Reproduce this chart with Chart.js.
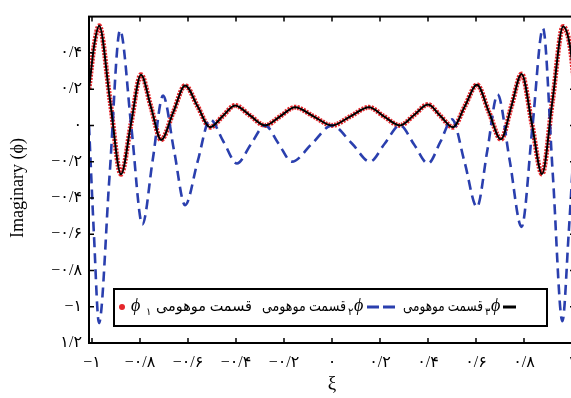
<!DOCTYPE html>
<html>
<head>
<meta charset="utf-8">
<script src="https://cdn.jsdelivr.net/npm/chart.js@4"></script>
<style>
  html, body { margin: 0; padding: 0; background: #fff; overflow: hidden; }
  #wrap { width: 571px; height: 398px; overflow: hidden; }
</style>
</head>
<body>
<div id="wrap"><canvas id="myChart" width="590" height="398"></canvas></div>
<script>
'use strict'

// ********* DATA *********

// phi 3 (black solid) and phi 1 (red dots) - they sit on top of each other
let xPhi3 = [-1.0125, -0.99, -0.970, -0.925, -0.879, -0.838, -0.796, -0.754, -0.712, -0.662, -0.612, -0.560, -0.508, -0.456, -0.404, -0.342, -0.279, -0.216, -0.154, -0.077, 0,
  0.077, 0.154, 0.216, 0.283, 0.342, 0.400, 0.452, 0.504, 0.554, 0.604, 0.654, 0.704, 0.747, 0.790, 0.833, 0.875, 0.919, 0.963, 0.99, 1.0125];
let phi3 = [0.20, 0.45, 0.55, 0.14, -0.27, 0.005, 0.28, 0.10, -0.08, 0.07, 0.22, 0.105, -0.01, 0.05, 0.11, 0.055, 0.00, 0.05, 0.10, 0.05, 0.00,
  0.05, 0.10, 0.05, 0.00, 0.057, 0.115, 0.052, -0.01, 0.107, 0.224, 0.073, -0.077, 0.103, 0.284, 0.008, -0.268, 0.139, 0.546, 0.45, 0.20];
let phi1 = [0.20, 0.45, 0.55, 0.14, -0.27, 0.005, 0.28, 0.10, -0.08, 0.07, 0.22, 0.105, -0.01, 0.05, 0.11, 0.055, 0.00, 0.05, 0.10, 0.05, 0.00,
  0.05, 0.10, 0.05, 0.00, 0.057, 0.115, 0.052, -0.01, 0.107, 0.224, 0.073, -0.077, 0.103, 0.284, 0.008, -0.268, 0.139, 0.546, 0.45, 0.20];

// phi 2 (blue dashed)
let xPhi2 = [-1.0125, -0.992, -0.971, -0.927, -0.883, -0.836, -0.790, -0.747, -0.704, -0.658, -0.612, -0.560, -0.508, -0.452, -0.396, -0.338, -0.279, -0.223, -0.167, -0.083, 0,
  0.083, 0.158, 0.220, 0.283, 0.342, 0.400, 0.452, 0.500, 0.552, 0.604, 0.647, 0.690, 0.740, 0.790, 0.835, 0.879, 0.920, 0.960, 0.986, 1.0125];
let phi2 = [0.00, -0.60, -1.09, -0.28, 0.525, -0.01, -0.546, -0.19, 0.164, -0.14, -0.44, -0.20, 0.033, -0.09, -0.21, -0.105, 0.00, -0.10, -0.20, -0.10, 0.00,
  -0.10, -0.20, -0.10, 0.00, -0.105, -0.21, -0.09, 0.033, -0.20, -0.45, -0.14, 0.17, -0.19, -0.56, -0.01, 0.535, -0.27, -1.08, -0.60, 0.00];

// tick values and their (persian) labels
let xTicks = [-1, -0.8, -0.6, -0.4, -0.2, 0, 0.2, 0.4, 0.6, 0.8, 1];
let xTickLabels = ['−۱', '−۰/۸', '−۰/۶', '−۰/۴', '−۰/۲', '۰', '۰/۲', '۰/۴', '۰/۶', '۰/۸', '۱'];
let yTicks = [-1.2, -1, -0.8, -0.6, -0.4, -0.2, 0, 0.2, 0.4];
let yTickLabels = ['۱/۲', '−۱', '−۰/۸', '−۰/۶', '−۰/۴', '−۰/۲', '۰', '۰/۲', '۰/۴'];

let legendText = 'قسمت موهومی';
let seriesNames = ['۱', '۲', '۳'];

// ********* HELPERS *********

function toPoints(xs, ys){
  let pts = [];
  for(let i = 0; i < xs.length; i++){
    pts.push({x: xs[i], y: ys[i]});
  }
  return pts;
}

const SERIF = '"Liberation Serif", "DejaVu Serif", "DejaVu Sans", serif';
const RED = '#e5262b';
const BLUE = '#2a3fae';

// draws the persian phrase squeezed to a given width, right edge at x
function phrase(c, x, y, w){
  c.save();
  c.font = '15px ' + SERIF;
  let m = c.measureText(legendText).width;
  c.translate(x, y);
  c.scale(w / m, 1);
  c.textAlign = 'right';
  c.fillText(legendText, 0, 0);
  c.restore();
}

// frame, inward ticks, axis titles and the legend box
let framePlugin = {
  id: 'frame',
  afterDatasetsDraw(chart){
    let c = chart.ctx;
    let a = chart.chartArea;
    let xs = chart.scales.x;
    let ys = chart.scales.y;
    c.save();
    c.strokeStyle = '#000';
    c.lineWidth = 2;
    c.strokeRect(a.left, a.top, a.right - a.left, a.bottom - a.top);

    c.lineWidth = 1.5;
    c.beginPath();
    for(let i = 0; i < xTicks.length; i++){
      let px = xs.getPixelForValue(xTicks[i]);
      c.moveTo(px, a.bottom); c.lineTo(px, a.bottom - 5);
      c.moveTo(px, a.top); c.lineTo(px, a.top + 5);
    }
    for(let i = 0; i < yTicks.length; i++){
      let py = ys.getPixelForValue(yTicks[i]);
      c.moveTo(a.left, py); c.lineTo(a.left + 5, py);
      c.moveTo(a.right, py); c.lineTo(a.right - 5, py);
    }
    c.stroke();

    // axis titles
    c.fillStyle = '#000';
    c.textAlign = 'center';
    c.textBaseline = 'middle';
    c.font = '19px ' + SERIF;
    c.fillText('ξ', xs.getPixelForValue(0), 384);
    c.save();
    c.translate(18, 188);
    c.rotate(-Math.PI / 2);
    c.font = '18px ' + SERIF;
    c.fillText('Imaginary (ϕ)', 0, 0);
    c.restore();

    // legend box
    let ly = 307;
    c.fillStyle = '#fff';
    c.fillRect(114, 289, 433, 37);
    c.lineWidth = 2;
    c.strokeRect(114, 289, 433, 37);

    c.fillStyle = RED;
    c.beginPath();
    c.arc(122, ly, 3, 0, Math.PI * 2);
    c.fill();

    c.fillStyle = '#000';
    c.textBaseline = 'middle';
    // item 1
    c.font = 'italic 18px ' + SERIF;
    c.textAlign = 'left';
    c.fillText('ϕ', 131, ly - 1);
    c.font = '10px ' + SERIF;
    c.fillText(seriesNames[0], 146, ly + 5);
    phrase(c, 252, ly, 96);
    // item 2
    phrase(c, 346, ly, 84);
    c.textAlign = 'left';
    c.font = '10px ' + SERIF;
    c.fillText(seriesNames[1], 348, ly + 5);
    c.font = 'italic 18px ' + SERIF;
    c.fillText('ϕ', 354, ly - 1);
    c.strokeStyle = BLUE;
    c.lineWidth = 3;
    c.beginPath();
    c.moveTo(367, ly); c.lineTo(379, ly);
    c.moveTo(383, ly); c.lineTo(395, ly);
    c.stroke();
    // item 3
    phrase(c, 483, ly, 80);
    c.textAlign = 'left';
    c.font = '10px ' + SERIF;
    c.fillText(seriesNames[2], 485, ly + 5);
    c.font = 'italic 18px ' + SERIF;
    c.fillText('ϕ', 491, ly - 1);
    c.strokeStyle = '#000';
    c.beginPath();
    c.moveTo(503, ly); c.lineTo(516, ly);
    c.stroke();
    c.restore();
  }
};

// ********* CHART *********

let ctx = document.getElementById('myChart');

let myChartObj = {
  type: 'line',
  data: {
    datasets: [{
      label: 'phi1',
      data: toPoints(xPhi3, phi1),
      borderColor: RED,
      borderWidth: 5,
      borderDash: [2, 1.2],
      pointRadius: 0,
      cubicInterpolationMode: 'monotone',
      order: 3
    },
    {
      label: 'phi2',
      data: toPoints(xPhi2, phi2),
      borderColor: BLUE,
      borderWidth: 2.6,
      borderDash: [10, 6],
      pointRadius: 0,
      cubicInterpolationMode: 'monotone',
      order: 2
    },
    {
      label: 'phi3',
      data: toPoints(xPhi3, phi3),
      borderColor: '#000',
      borderWidth: 2,
      pointRadius: 0,
      cubicInterpolationMode: 'monotone',
      order: 1
    }]
  },
  options: {
    responsive: false,
    animation: false,
    layout: { padding: { left: 0, right: 15, top: 13, bottom: 0 } },
    plugins: { legend: { display: false }, tooltip: { enabled: false } },
    scales: {
      x: {
        type: 'linear',
        min: -1.0125,
        max: 1.0125,
        afterFit(scale){ scale.height = 55; },
        afterBuildTicks(scale){ scale.ticks = xTicks.map(v => ({value: v})); },
        grid: { display: false, drawTicks: false },
        border: { display: false },
        ticks: {
          padding: 10,
          color: '#000',
          font: { family: SERIF, size: 16 },
          maxRotation: 0,
          autoSkip: false,
          callback: (v, i) => xTickLabels[i]
        }
      },
      y: {
        type: 'linear',
        min: -1.2,
        max: 0.6,
        afterFit(scale){ scale.width = 89; },
        afterBuildTicks(scale){ scale.ticks = yTicks.map(v => ({value: v})); },
        grid: { display: false, drawTicks: false },
        border: { display: false },
        ticks: {
          padding: 7,
          color: '#000',
          font: { family: SERIF, size: 16 },
          autoSkip: false,
          callback: (v, i) => yTickLabels[i]
        }
      }
    }
  },
  plugins: [framePlugin]
};
new Chart(ctx, myChartObj);
</script>
</body>
</html>
